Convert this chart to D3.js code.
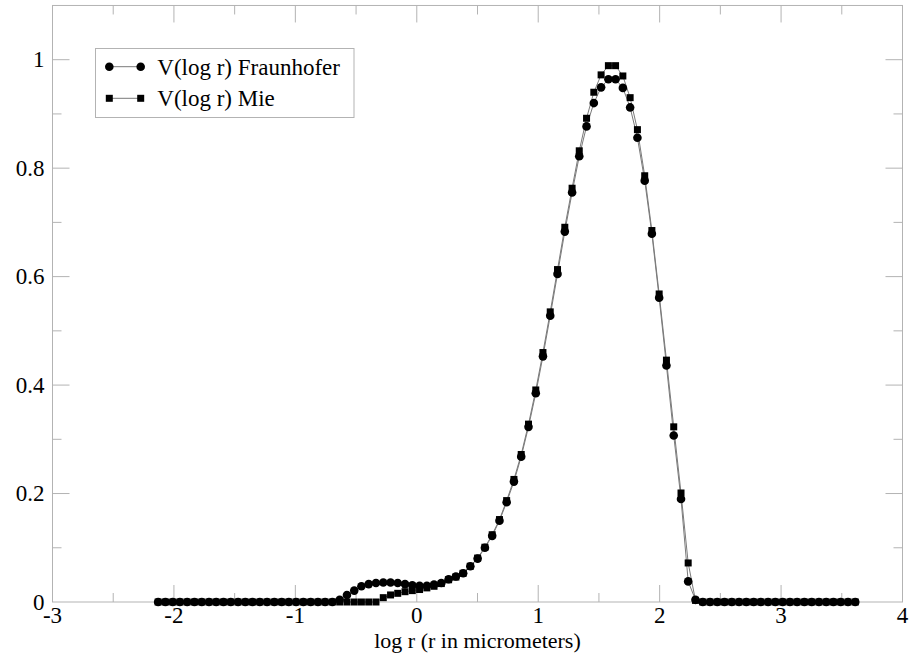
<!DOCTYPE html>
<html>
<head>
<meta charset="utf-8">
<script src="https://cdn.jsdelivr.net/npm/d3@7"></script>
<style>
    body { margin: 0; background: #fff; }
    svg { display: block; }
</style>
</head>
<body>
<div id="chart"></div>
<script>
// log r positions of the size classes
const logR = [
    -2.130, -2.070, -2.010, -1.951, -1.891, -1.831, -1.771, -1.711, -1.652, -1.592,
    -1.532, -1.472, -1.412, -1.353, -1.293, -1.233, -1.173, -1.113, -1.054, -0.994,
    -0.934, -0.874, -0.814, -0.755, -0.695, -0.635, -0.575, -0.515, -0.456, -0.396,
    -0.336, -0.276, -0.216, -0.157, -0.097, -0.037, 0.023, 0.083, 0.142, 0.202,
    0.262, 0.322, 0.382, 0.441, 0.501, 0.561, 0.621, 0.681, 0.740, 0.800,
    0.860, 0.920, 0.980, 1.039, 1.099, 1.159, 1.219, 1.279, 1.338, 1.398,
    1.458, 1.518, 1.578, 1.637, 1.697, 1.757, 1.817, 1.877, 1.936, 1.996,
    2.056, 2.116, 2.176, 2.235, 2.295, 2.355, 2.415, 2.475, 2.534, 2.594,
    2.654, 2.714, 2.774, 2.833, 2.893, 2.953, 3.013, 3.073, 3.132, 3.192,
    3.252, 3.312, 3.372, 3.431, 3.491, 3.551, 3.611
];

// V(log r)
const fraunhofer = [
    0, 0, 0, 0, 0, 0, 0, 0, 0, 0,
    0, 0, 0, 0, 0, 0, 0, 0, 0, 0,
    0, 0, 0, 0, 0, 0.004, 0.013, 0.021, 0.029, 0.033,
    0.035, 0.036, 0.036, 0.035, 0.033, 0.031, 0.030, 0.030, 0.032, 0.035,
    0.042, 0.047, 0.053, 0.066, 0.080, 0.100, 0.122, 0.150, 0.184, 0.222,
    0.268, 0.323, 0.385, 0.453, 0.528, 0.605, 0.683, 0.755, 0.822, 0.877,
    0.920, 0.949, 0.964, 0.964, 0.948, 0.912, 0.856, 0.777, 0.679, 0.561,
    0.436, 0.307, 0.190, 0.038, 0.004, 0, 0, 0, 0, 0,
    0, 0, 0, 0, 0, 0, 0, 0, 0, 0,
    0, 0, 0, 0, 0, 0, 0
];

const mie = [
    0, 0, 0, 0, 0, 0, 0, 0, 0, 0,
    0, 0, 0, 0, 0, 0, 0, 0, 0, 0,
    0, 0, 0, 0, 0, 0, 0, 0, 0, 0,
    0, 0.008, 0.013, 0.016, 0.019, 0.021, 0.023, 0.026, 0.029, 0.034,
    0.041, 0.046, 0.053, 0.066, 0.081, 0.101, 0.124, 0.152, 0.187, 0.226,
    0.272, 0.328, 0.391, 0.460, 0.535, 0.613, 0.691, 0.763, 0.832, 0.892,
    0.940, 0.972, 0.989, 0.989, 0.970, 0.930, 0.871, 0.786, 0.685, 0.568,
    0.446, 0.323, 0.201, 0.072, 0.003, 0, 0, 0, 0, 0,
    0, 0, 0, 0, 0, 0, 0, 0, 0, 0,
    0, 0, 0, 0, 0, 0, 0
];

const xTicks = [-3, -2, -1, 0, 1, 2, 3, 4];
const xMinor = [-2.5, -1.5, -0.5, 0.5, 1.5, 2.5, 3.5];
const yTicks = [0, 0.2, 0.4, 0.6, 0.8, 1];
const yMinor = [0.1, 0.3, 0.5, 0.7, 0.9];
const legendLabels = ["V(log r) Fraunhofer", "V(log r) Mie"];

const width = 910;
const height = 660;
const margin = {top: 6, left: 52.5, right: 7.5, bottom: 58};
const axisColor = "#b3b3b3";
const lineColor = "#7a7a7a";
const serif = "'Liberation Serif', 'DejaVu Serif', serif";

const svg = d3.select("#chart")
    .append("svg")
    .attr("width", width)
    .attr("height", height)
    .attr("font-family", serif);

const xScale = d3.scaleLinear()
    .domain([-3, 4])
    .range([margin.left, width - margin.right]);

const yScale = d3.scaleLinear()
    .domain([0, 1.1])
    .range([height - margin.bottom, height - margin.bottom - 1.1 * 542.3]);

const x0 = xScale(-3), x1 = xScale(4);
const y0 = yScale(0), y1 = yScale(1.1);

// frame
svg.append("rect")
    .attr("x", x0)
    .attr("y", y1)
    .attr("width", x1 - x0)
    .attr("height", y0 - y1)
    .attr("fill", "none")
    .attr("stroke", axisColor)
    .attr("stroke-width", 1);

// ticks point inwards on all four sides
function drawXTicks(values, len) {
    svg.append("g").selectAll("line")
        .data(values)
        .enter()
        .append("line")
            .attr("x1", function(d) { return xScale(d); })
            .attr("x2", function(d) { return xScale(d); })
            .attr("y1", y0)
            .attr("y2", y0 - len)
            .attr("stroke", axisColor);
    svg.append("g").selectAll("line")
        .data(values)
        .enter()
        .append("line")
            .attr("x1", function(d) { return xScale(d); })
            .attr("x2", function(d) { return xScale(d); })
            .attr("y1", y1)
            .attr("y2", y1 + len)
            .attr("stroke", axisColor);
}

function drawYTicks(values, len) {
    svg.append("g").selectAll("line")
        .data(values)
        .enter()
        .append("line")
            .attr("x1", x0)
            .attr("x2", x0 + len)
            .attr("y1", function(d) { return yScale(d); })
            .attr("y2", function(d) { return yScale(d); })
            .attr("stroke", axisColor);
    svg.append("g").selectAll("line")
        .data(values)
        .enter()
        .append("line")
            .attr("x1", x1)
            .attr("x2", x1 - len)
            .attr("y1", function(d) { return yScale(d); })
            .attr("y2", function(d) { return yScale(d); })
            .attr("stroke", axisColor);
}

drawXTicks(xTicks.slice(1, -1), 17);
drawXTicks(xMinor, 9);
drawYTicks(yTicks.slice(1), 17);
drawYTicks(yMinor, 9);

// tick labels
svg.append("g").selectAll("text")
    .data(xTicks)
    .enter()
    .append("text")
        .attr("x", function(d) { return xScale(d); })
        .attr("y", y0 + 21)
        .attr("text-anchor", "middle")
        .attr("font-size", 23)
        .text(function(d) { return d; });

svg.append("g").selectAll("text")
    .data(yTicks)
    .enter()
    .append("text")
        .attr("x", x0 - 8)
        .attr("y", function(d) { return yScale(d) + 7.5; })
        .attr("text-anchor", "end")
        .attr("font-size", 23)
        .text(function(d) { return d; });

svg.append("text")
    .attr("x", xScale(0.5))
    .attr("y", y0 + 46)
    .attr("text-anchor", "middle")
    .attr("font-size", 22)
    .text("log r (r in micrometers)");

// series
const fData = logR.map(function(d, i) { return {x: d, y: fraunhofer[i]}; });
const mData = logR.map(function(d, i) { return {x: d, y: mie[i]}; });

const line = d3.line()
    .x(function(d) { return xScale(d.x); })
    .y(function(d) { return yScale(d.y); });

svg.append("path")
    .datum(fData)
    .attr("d", line)
    .attr("fill", "none")
    .attr("stroke", lineColor)
    .attr("stroke-width", 1);

svg.append("path")
    .datum(mData)
    .attr("d", line)
    .attr("fill", "none")
    .attr("stroke", lineColor)
    .attr("stroke-width", 1);

svg.append("g").selectAll("circle")
    .data(fData)
    .enter()
    .append("circle")
        .attr("cx", function(d) { return xScale(d.x); })
        .attr("cy", function(d) { return yScale(d.y); })
        .attr("r", 4.3)
        .attr("fill", "#000");

const sq = 7;
svg.append("g").selectAll("rect")
    .data(mData)
    .enter()
    .append("rect")
        .attr("x", function(d) { return xScale(d.x) - sq / 2; })
        .attr("y", function(d) { return yScale(d.y) - sq / 2; })
        .attr("width", sq)
        .attr("height", sq)
        .attr("fill", "#000");

// legend
const legend = svg.append("g");

legend.append("rect")
    .attr("x", 95.5)
    .attr("y", 48.5)
    .attr("width", 258.5)
    .attr("height", 69)
    .attr("fill", "#fff")
    .attr("stroke", axisColor);

const rowY = [66.7, 98.3];

legendLabels.forEach(function(label, i) {
    legend.append("line")
        .attr("x1", 109.3)
        .attr("x2", 140.7)
        .attr("y1", rowY[i])
        .attr("y2", rowY[i])
        .attr("stroke", lineColor);

    [109.3, 140.7].forEach(function(cx) {
        if (i === 0) {
            legend.append("circle")
                .attr("cx", cx)
                .attr("cy", rowY[i])
                .attr("r", 4.3)
                .attr("fill", "#000");
        } else {
            legend.append("rect")
                .attr("x", cx - sq / 2)
                .attr("y", rowY[i] - sq / 2)
                .attr("width", sq)
                .attr("height", sq)
                .attr("fill", "#000");
        }
    });

    legend.append("text")
        .attr("x", 157.3)
        .attr("y", rowY[i] + 8)
        .attr("font-size", 23)
        .text(label);
});
</script>
</body>
</html>
